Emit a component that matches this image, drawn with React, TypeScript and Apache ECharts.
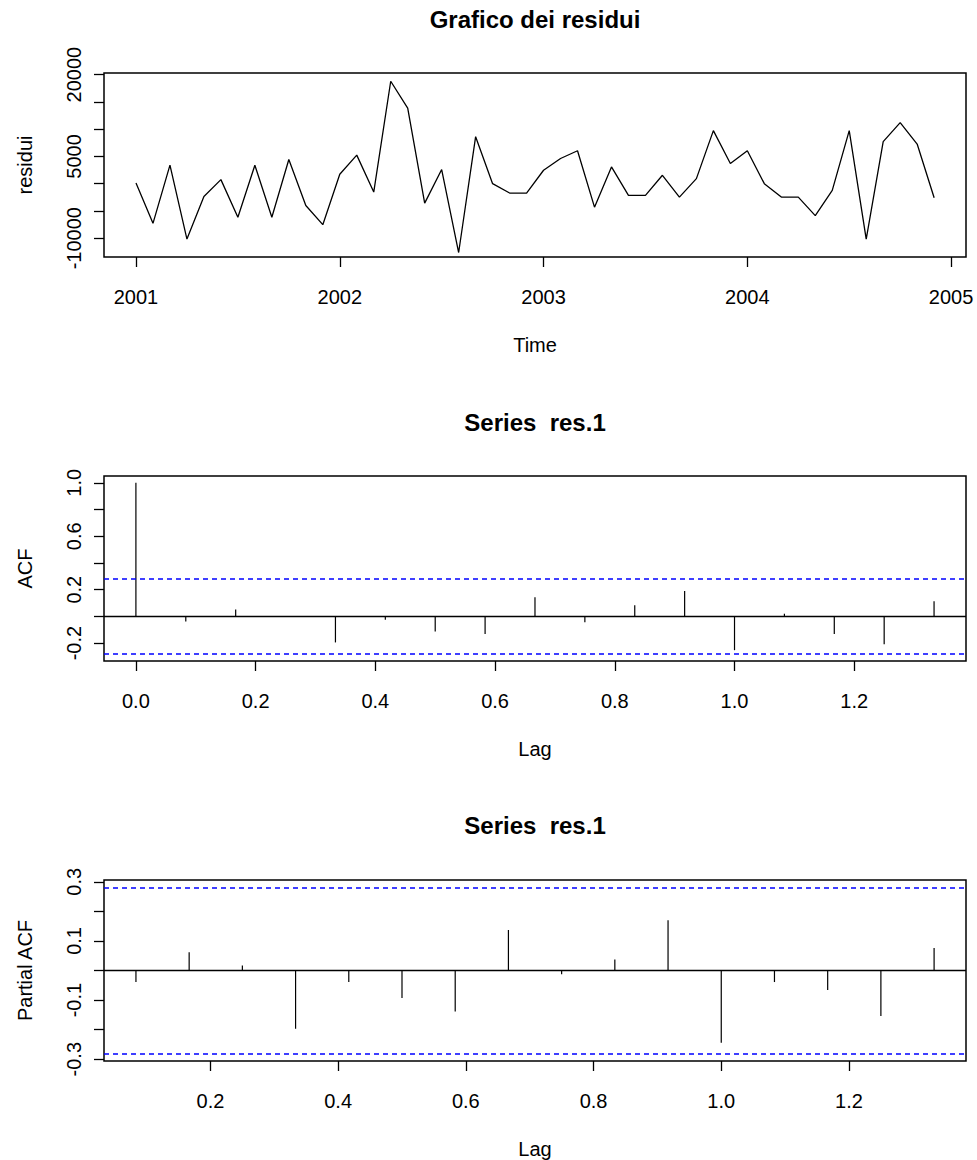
import React, { useEffect, useRef } from "react";
import * as echarts from "echarts";

// ---- data ----
const startYear = 2001;
const residui = [
  120, -7270, 3390, -10160, -2340, 740, -6160, 3390, -6160, 4440, -4000, -7520,
  1720, 5240, -1540, 18790, 13860, -3570, 2590, -12630, 8620, 0, -1720, -1720,
  2460, 4620, 6040, -4310, 3080, -2160, -2160, 1540, -2460, 920, 9730, 3700,
  6040, 0, -2460, -2460, -5850, -1230, 9730, -10160, 7700, 11210, 7270, -2590,
];
const yearTicks = [2001, 2002, 2003, 2004, 2005];
const residTicks = [-10000, -5000, 0, 5000, 10000, 15000, 20000];
const residLabels = [-10000, 5000, 20000];

const acfLagMonths = [0, 1, 2, 3, 4, 5, 6, 7, 8, 9, 10, 11, 12, 13, 14, 15, 16];
const acfValues = [
  1.0, -0.038, 0.051, 0.003, -0.195, -0.025, -0.114, -0.132, 0.144, -0.043, 0.084,
  0.19, -0.253, 0.02, -0.132, -0.208, 0.114,
];
const acfXTicks = [0, 0.2, 0.4, 0.6, 0.8, 1.0, 1.2];
const acfYTicks = [-0.2, 0, 0.2, 0.4, 0.6, 0.8, 1.0];
const acfYLabels = [-0.2, 0.2, 0.6, 1.0];

const pacfLagMonths = [1, 2, 3, 4, 5, 6, 7, 8, 9, 10, 11, 12, 13, 14, 15, 16];
const pacfValues = [
  -0.039, 0.062, 0.017, -0.197, -0.039, -0.093, -0.139, 0.137, -0.013, 0.037, 0.17,
  -0.244, -0.039, -0.066, -0.154, 0.076,
];
const pacfXTicks = [0.2, 0.4, 0.6, 0.8, 1.0, 1.2];
const pacfYTicks = [-0.3, -0.2, -0.1, 0, 0.1, 0.2, 0.3];
const pacfYLabels = [-0.3, -0.1, 0.1, 0.3];

const confLimit = 0.283;

const FONT = "'Liberation Sans', Arial, sans-serif";

export default function App() {
  const ref = useRef<HTMLDivElement>(null);

  useEffect(() => {
    document.body.style.margin = "0";
    if (!ref.current) return;
    const chart = echarts.init(ref.current, undefined, { renderer: "svg" });

    const L = 104;
    const W = 862;
    const grids = [
      { left: L, top: 73, width: W, height: 184 },
      { left: L, top: 476, width: W, height: 185 },
      { left: L, top: 880, width: W, height: 185 },
    ].map((g) => ({
      ...g,
      show: true,
      borderColor: "#000",
      borderWidth: 1.5,
      backgroundColor: "transparent",
    }));

    const tickStyle = { show: true, inside: false, length: 10, lineStyle: { color: "#000", width: 1.3 } };
    const labelBase = { color: "#000", fontSize: 20, fontFamily: FONT };

    const xAxisCommon = (gridIndex: number, min: number, max: number, ticks: number[], fmt: (v: number) => string, name: string) => ({
      type: "value",
      gridIndex,
      min,
      max,
      position: "bottom",
      axisLine: { show: false, onZero: false },
      splitLine: { show: false },
      axisTick: { ...tickStyle, customValues: ticks },
      axisLabel: { ...labelBase, margin: 30, customValues: ticks, formatter: (v: number) => fmt(v) },
      name,
      nameLocation: "middle",
      nameGap: 78,
      nameTextStyle: { color: "#000", fontSize: 20, fontFamily: FONT },
    });

    const yAxisCommon = (gridIndex: number, min: number, max: number, ticks: number[], labels: number[], fmt: (v: number) => string, name: string) => ({
      type: "value",
      gridIndex,
      min,
      max,
      position: "left",
      axisLine: { show: false, onZero: false },
      splitLine: { show: false },
      axisTick: { ...tickStyle, customValues: ticks },
      axisLabel: { ...labelBase, margin: 20, rotate: 90, customValues: labels, formatter: (v: number) => fmt(v) },
      name,
      nameLocation: "middle",
      nameGap: 69,
      nameRotate: 90,
      nameTextStyle: { color: "#000", fontSize: 20, fontFamily: FONT },
    });

    const fmt1 = (v: number) => (Math.abs(v) < 1e-9 ? "0.0" : v.toFixed(1));
    const fmtInt = (v: number) => String(Math.round(v));

    const stemRender = (params: any, api: any) => {
      const x = api.value(0);
      const y = api.value(1);
      const p0 = api.coord([x, 0]);
      const p1 = api.coord([x, y]);
      return {
        type: "line",
        shape: { x1: p0[0], y1: p0[1], x2: p1[0], y2: p1[1] },
        style: { stroke: "#000", lineWidth: 1.2 },
      };
    };

    const refLines = (withZero: boolean) => ({
      silent: true,
      symbol: ["none", "none"],
      label: { show: false },
      animation: false,
      data: [
        ...(withZero ? [{ yAxis: 0, lineStyle: { color: "#000", type: "solid", width: 1.3 } }] : []),
        { yAxis: confLimit, lineStyle: { color: "#0000ff", type: [5, 4], width: 1.6 } },
        { yAxis: -confLimit, lineStyle: { color: "#0000ff", type: [5, 4], width: 1.6 } },
      ],
    });

    const titleText = (text: string, y: number) => ({
      type: "text",
      x: L + W / 2,
      y,
      style: {
        text,
        fill: "#000",
        font: `bold 24px ${FONT}`,
        textAlign: "center",
        textVerticalAlign: "middle",
      },
    });

    const option: any = {
      animation: false,
      backgroundColor: "#fff",
      grid: grids,
      xAxis: [
        xAxisCommon(0, 2000.843, 2005.073, yearTicks, fmtInt, "Time"),
        xAxisCommon(1, -0.0533, 1.3867, acfXTicks, fmt1, "Lag"),
        xAxisCommon(2, 0.0333, 1.3833, pacfXTicks, fmt1, "Lag"),
      ],
      yAxis: [
        yAxisCommon(0, -13450, 20300, residTicks, residLabels, fmtInt, "residui"),
        yAxisCommon(1, -0.334, 1.051, acfYTicks, acfYLabels, fmt1, "ACF"),
        yAxisCommon(2, -0.306, 0.306, pacfYTicks, pacfYLabels, fmt1, "Partial ACF"),
      ],
      graphic: [
        titleText("Grafico dei residui", 19),
        titleText("Series  res.1", 422),
        titleText("Series  res.1", 825),
      ],
      series: [
        {
          type: "line",
          xAxisIndex: 0,
          yAxisIndex: 0,
          data: residui.map((v, k) => [startYear + k / 12, v]),
          showSymbol: false,
          symbol: "none",
          lineStyle: { color: "#000", width: 1.3 },
        },
        {
          type: "custom",
          xAxisIndex: 1,
          yAxisIndex: 1,
          data: acfLagMonths.map((m, i) => [m / 12, acfValues[i]]),
          renderItem: stemRender,
          markLine: refLines(true),
        },
        {
          type: "custom",
          xAxisIndex: 2,
          yAxisIndex: 2,
          data: pacfLagMonths.map((m, i) => [m / 12, pacfValues[i]]),
          renderItem: stemRender,
          markLine: refLines(true),
        },
      ],
    };

    chart.setOption(option);
    return () => chart.dispose();
  }, []);

  return <div ref={ref} style={{ width: 977, height: 1160 }} />;
}
